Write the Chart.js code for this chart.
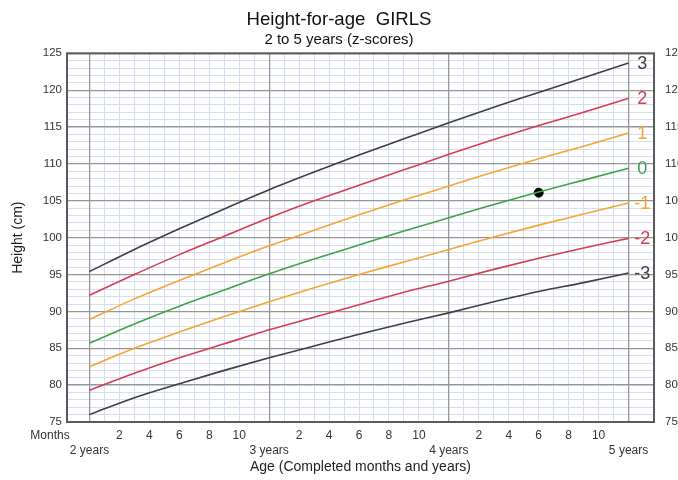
<!DOCTYPE html>
<html>
<head>
<meta charset="utf-8">
<script src="https://cdn.jsdelivr.net/npm/chart.js@4.4.1/dist/chart.umd.min.js"></script>
<style>
  html, body { margin: 0; padding: 0; background: #ffffff; }
  #wrap { width: 678px; height: 480px; }
</style>
</head>
<body>
<div id="wrap"><canvas id="c" width="678" height="480"></canvas></div>
<script>
// Age in completed months
const ages = [24, 27, 30, 33, 36, 39, 42, 45, 48, 51, 54, 57, 60];
// Height (cm) per z-score curve
const sdPos3 = [95.4, 98.4, 101.2, 103.9, 106.5, 108.9, 111.2, 113.4, 115.6, 117.7, 119.7, 121.7, 123.7];
const sdPos2 = [92.2, 95.0, 97.7, 100.2, 102.7, 105.0, 107.1, 109.2, 111.3, 113.3, 115.2, 117.0, 118.9];
const sdPos1 = [88.9, 91.7, 94.2, 96.6, 98.9, 101.0, 103.1, 105.1, 107.0, 108.9, 110.7, 112.4, 114.2];
const sdZero = [85.7, 88.3, 90.7, 92.9, 95.1, 97.1, 99.0, 100.9, 102.7, 104.5, 106.2, 107.8, 109.4];
const sdNeg1 = [82.5, 85.0, 87.2, 89.3, 91.3, 93.2, 95.0, 96.7, 98.4, 100.1, 101.7, 103.2, 104.7];
const sdNeg2 = [79.3, 81.6, 83.7, 85.6, 87.5, 89.2, 90.9, 92.6, 94.1, 95.7, 97.2, 98.6, 99.9];
const sdNeg3 = [76.0, 78.3, 80.2, 82.0, 83.7, 85.3, 86.9, 88.4, 89.8, 91.3, 92.7, 93.9, 95.2];
const curveLabels = ['3', '2', '1', '0', '-1', '-2', '-3'];
// Plotted child measurement
const childAge = [54];
const childHeight = [106.1];
// Axis ticks
const monthTicks = [24,25,26,27,28,29,30,31,32,33,34,35,36,37,38,39,40,41,42,43,44,45,46,47,48,49,50,51,52,53,54,55,56,57,58,59,60];
const heightTicks = [75,76,77,78,79,80,81,82,83,84,85,86,87,88,89,90,91,92,93,94,95,96,97,98,99,100,101,102,103,104,105,106,107,108,109,110,111,112,113,114,115,116,117,118,119,120,121,122,123,124,125];
const heightLabels = [75, 80, 85, 90, 95, 100, 105, 110, 115, 120, 125];

const DARK = 'rgb(62,62,70)';
const RED = 'rgb(212,62,80)';
const ORANGE = 'rgb(246,164,52)';
const GREEN = 'rgb(64,162,72)';
const MAJOR = 'rgb(150,150,150)';
const MINOR = 'rgb(214,221,240)';
const curveColors = [DARK, RED, ORANGE, GREEN, ORANGE, RED, DARK];
const curves = [sdPos3, sdPos2, sdPos1, sdZero, sdNeg1, sdNeg2, sdNeg3];
const FONT = "'Liberation Sans', Arial, Helvetica, sans-serif";

const datasets = curves.map((vals, i) => ({
  label: curveLabels[i],
  data: ages.map((a, j) => ({x: a, y: vals[j]})),
  borderColor: curveColors[i],
  borderWidth: 1.6,
  pointRadius: 0,
  fill: false,
  cubicInterpolationMode: 'monotone'
}));
datasets.push({
  label: 'child',
  data: childAge.map((a, j) => ({x: a, y: childHeight[j]})),
  showLine: false,
  pointRadius: 4.5,
  pointBackgroundColor: '#000',
  pointBorderColor: '#000'
});

const decor = {
  id: 'decor',
  afterDraw(chart) {
    const {ctx, chartArea: a, scales} = chart;
    ctx.save();
    // plot border
    ctx.strokeStyle = 'rgb(90,90,90)';
    ctx.lineWidth = 2;
    ctx.strokeRect(a.left, a.top, a.right - a.left, a.bottom - a.top);
    // curve end labels
    ctx.font = '18px ' + FONT;
    ctx.textAlign = 'center';
    ctx.textBaseline = 'middle';
    const xLab = (scales.x.getPixelForValue(60) + a.right) / 2 + 1;
    curves.forEach((vals, i) => {
      ctx.fillStyle = curveColors[i];
      ctx.fillText(curveLabels[i], xLab, scales.y.getPixelForValue(vals[vals.length - 1]) + 1);
    });
    // "Months" label
    ctx.font = '12px ' + FONT;
    ctx.fillStyle = '#333';
    ctx.fillText('Months', 50, 436);
    ctx.restore();
  }
};

new Chart(document.getElementById('c'), {
  type: 'line',
  data: { datasets },
  plugins: [decor],
  options: {
    responsive: false,
    animation: false,
    layout: { padding: 0 },
    plugins: {
      legend: { display: false },
      tooltip: { enabled: false },
      title: {
        display: true,
        text: 'Height-for-age  GIRLS',
        color: '#111',
        font: { family: FONT, size: 18.6, weight: 'normal', lineHeight: 1.2 },
        padding: { top: 9, bottom: 0 }
      },
      subtitle: {
        display: true,
        text: '2 to 5 years (z-scores)',
        color: '#111',
        font: { family: FONT, size: 15, weight: 'normal', lineHeight: 1.2 },
        padding: { top: 0, bottom: 4 }
      }
    },
    scales: {
      x: {
        type: 'linear',
        position: 'bottom',
        min: 22.5,
        max: 61.7,
        afterBuildTicks: s => { s.ticks = monthTicks.map(v => ({value: v})); },
        afterFit: s => { s.height = 58; },
        ticks: {
          autoSkip: false,
          maxRotation: 0,
          padding: 6,
          color: '#333',
          font: { family: FONT, size: 12, lineHeight: 1.25 },
          callback: v => {
            if (v % 12 === 0) return ['', (v / 12) + ' years'];
            if (v % 2 === 0) return String(v % 12);
            return '';
          }
        },
        grid: {
          z: -2,
          drawTicks: false,
          color: c => (c.tick && c.tick.value % 12 === 0) ? MAJOR : MINOR,
          lineWidth: c => (c.tick && c.tick.value % 12 === 0) ? 1.3 : 1
        },
        border: { display: false },
        title: {
          display: true,
          text: 'Age (Completed months and years)',
          color: '#222',
          font: { family: FONT, size: 14 },
          padding: { top: 0, bottom: 4 }
        }
      },
      y: {
        type: 'linear',
        position: 'left',
        min: 75,
        max: 125,
        afterBuildTicks: s => { s.ticks = heightTicks.map(v => ({value: v})); },
        afterFit: s => { s.width = 67; },
        ticks: {
          autoSkip: false,
          padding: 5,
          color: '#333',
          font: { family: FONT, size: 11.5 },
          callback: v => (v % 5 === 0 ? String(v) : '')
        },
        grid: {
          z: -3,
          drawTicks: false,
          color: MINOR,
          lineWidth: 1
        },
        border: { display: false },
        title: {
          display: true,
          text: 'Height (cm)',
          color: '#222',
          font: { family: FONT, size: 14 },
          padding: { top: 10, bottom: 0 }
        }
      },
      y2: {
        type: 'linear',
        position: 'right',
        min: 75,
        max: 125,
        afterBuildTicks: s => { s.ticks = heightLabels.map(v => ({value: v})); },
        afterFit: s => { s.width = 24; },
        ticks: {
          autoSkip: false,
          padding: 11,
          color: '#333',
          font: { family: FONT, size: 11.5 }
        },
        grid: {
          z: -1,
          drawTicks: false,
          color: MAJOR,
          lineWidth: 1.3
        },
        border: { display: false }
      }
    }
  }
});
</script>
</body>
</html>
